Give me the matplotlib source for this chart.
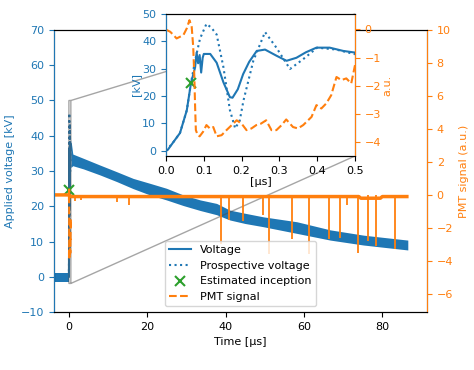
import matplotlib
matplotlib.use("Agg")
import matplotlib.pyplot as plt
from matplotlib.lines import Line2D

plt.rcParams['font.family'] = ['DejaVu Sans']
plt.rcParams['font.size'] = 8

# ---- main voltage envelope (kV) ----
t_pre = [-3.8, -0.05]
pre_up = [1.0, 1.0]
pre_lo = [-1.6, -1.6]

t_env = [0.5, 1, 3.7, 7.9, 12.2, 16.4, 20.7, 24.9, 29.2, 33.5, 37.7, 41.1, 45,
         49.6, 58.2, 66.7, 75.2, 80, 86.5]
env_up = [39, 34.8, 33.6, 31.7, 29.8, 27.9, 26.5, 25.1, 23.2, 21.8, 20.8, 18.9,
          18.0, 17.0, 15.6, 13.3, 11.8, 11.2, 10.4]
env_lo = [31, 31.5, 30.6, 28.9, 27.0, 25.0, 23.2, 21.8, 20.2, 18.8, 17.6, 16.1,
          15.1, 14.2, 12.3, 10.4, 9.0, 8.4, 7.6]

# ---- zoomed voltage (µs, kV) ----
t_v = [0, 0.005, 0.018, 0.037, 0.055, 0.066, 0.077, 0.081, 0.085, 0.089, 0.093,
       0.097, 0.1, 0.117, 0.134, 0.152, 0.169, 0.176, 0.19, 0.204, 0.22, 0.24,
       0.262, 0.293, 0.319, 0.345, 0.37, 0.398, 0.433, 0.469, 0.5]
v_meas = [0, 0.4, 2.9, 6.5, 14.8, 24.7, 30.5, 35.9, 32, 35, 28.6, 34, 35.4,
          35.4, 32.2, 25, 19.6, 19.4, 22.5, 28, 32.5, 36.5, 37, 34.7, 32.9, 34,
          36, 37.7, 37.7, 36.5, 35.9]

t_p = [0, 0.018, 0.037, 0.055, 0.066, 0.077, 0.09, 0.107, 0.12, 0.134, 0.152,
       0.169, 0.183, 0.195, 0.205, 0.231, 0.262, 0.292, 0.328, 0.363, 0.4, 0.45,
       0.5]
v_prosp = [0, 2.9, 6.5, 14.8, 24.7, 33, 41, 46.4, 45, 42.5, 30.5, 14.9, 8.2,
           11, 18.4, 32.9, 43.4, 37.7, 29.9, 33.5, 37.7, 37, 35.3]

# ---- inception ----
t_inc = [0.066]
v_inc = [24.7]

# ---- zoomed PMT (a.u.) ----
t_pmt_z = [0, 0.002, 0.011, 0.020, 0.028, 0.037, 0.046, 0.055, 0.062, 0.068,
           0.072, 0.075, 0.077, 0.079, 0.084, 0.089, 0.098, 0.107, 0.116, 0.125,
           0.134, 0.147, 0.160, 0.174, 0.187, 0.200, 0.213, 0.226, 0.239, 0.251,
           0.265, 0.279, 0.292, 0.306, 0.318, 0.336, 0.349, 0.363, 0.385, 0.398,
           0.411, 0.424, 0.437, 0.451, 0.464, 0.477, 0.490, 0.5]
pmt_z = [0, -0.02, -0.08, -0.2, -0.32, -0.26, -0.2, 0.04, 0.33, 0.09, -0.62,
         -1.69, -2.75, -3.58, -3.76, -3.8, -3.64, -3.4, -3.52, -3.47, -3.8,
         -3.76, -3.58, -3.4, -3.23, -3.35, -3.58, -3.52, -3.4, -3.35, -3.23,
         -3.58, -3.58, -3.4, -3.2, -3.47, -3.52, -3.4, -3.11, -2.69, -2.81,
         -2.63, -2.34, -1.69, -1.8, -1.74, -1.92, -1.27]

# ---- main PMT baseline and spikes ----
t_base = [-3.8, 0.0, 0.6, 74.0, 74.5, 79.5, 80.0, 86.7]
pmt_base = [0.0, 0.0, -0.1, -0.1, -0.2, -0.2, -0.1, -0.1]
spike_t = [1.5, 3.0, 7.0, 12.2, 15.3, 38.8, 40.9, 44.5, 49.5, 51.2, 57.0, 61.4,
           66.5, 69.2, 71.1, 73.9, 76.4, 78.4, 83.3]
spike_v = [-0.35, -0.3, -0.2, -0.45, -0.6, -2.95, -1.5, -1.6, -1.2, -3.6, -2.7,
           -3.6, -2.7, -2.6, -0.6, -3.5, -2.8, -3.1, -3.3]

C0, C1, C2 = '#1f77b4', '#ff7f0e', '#2ca02c'

fig = plt.figure(figsize=(4.74, 3.70), dpi=100)
ax = fig.add_axes([54/474, 1-312/370, (427-54)/474, (312-30)/370])
ax2 = ax.twinx()

# main voltage
ax.fill_between(t_pre, pre_lo, pre_up, color=C0, lw=0)
ax.fill_between(t_env, env_lo, env_up, color=C0, lw=0)
ax.plot(t_v, v_meas, color=C0, lw=1.5)
ax.plot(t_p, v_prosp, color=C0, ls=':', lw=1.5)
ax.plot(t_inc, v_inc, 'x', color=C2, ms=7, mew=1.5, zorder=5)
ax.set_xlim(-3.8, 91.4)
ax.set_ylim(-10, 70)
ax.set_xticks([0, 20, 40, 60, 80])
ax.set_yticks(range(-10, 71, 10))
ax.set_xlabel('Time [μs]')
ax.set_ylabel('Applied voltage [kV]', color=C0)
ax.tick_params(axis='y', colors=C0)

# main PMT
ax2.plot(t_base, pmt_base, color=C1, lw=2.5, solid_capstyle='butt')
ax2.vlines(spike_t, spike_v, 0, colors=C1, linestyles='-', lw=1.3)
ax2.plot(t_pmt_z, pmt_z, color=C1, ls='--', lw=1.5)
ax2.set_ylim(-7.1, 10)
ax2.set_yticks(range(-6, 11, 2))
ax2.set_ylabel('PMT signal (a.u.)', color=C1)
ax2.tick_params(axis='y', colors=C1)
ax2.spines['left'].set_color(C0)
ax2.spines['right'].set_color(C1)

# inset
axins = fig.add_axes([166/474, 1-156/370, (355-166)/474, (156-14)/370])
axins.plot(t_v, v_meas, color=C0, lw=1.5)
axins.plot(t_p, v_prosp, color=C0, ls=':', lw=1.5)
axins.plot(t_inc, v_inc, 'x', color=C2, ms=7, mew=1.5, zorder=5)
axins.set_xlim(0, 0.5)
axins.set_ylim(-1.9, 50)
axins.set_xticks([0, 0.1, 0.2, 0.3, 0.4, 0.5])
axins.set_xticklabels(['0.0', '0.1', '0.2', '0.3', '0.4', '0.5'])
axins.set_yticks(range(0, 51, 10))
axins.set_xlabel('[μs]', labelpad=1)
axins.set_ylabel('[kV]', color=C0, labelpad=1)
axins.tick_params(axis='y', colors=C0)

axins2 = axins.twinx()
axins2.plot(t_pmt_z, pmt_z, color=C1, ls='--', lw=1.5)
axins2.set_ylim(-4.5, 0.55)
axins2.set_yticks([0, -1, -2, -3, -4])
axins2.set_ylabel('a.u.', color=C1, labelpad=1)
axins2.tick_params(axis='y', colors=C1)
axins2.spines['left'].set_color(C0)
axins2.spines['right'].set_color(C1)

ax.indicate_inset_zoom(axins, edgecolor='0.3')

handles = [Line2D([], [], color=C0, lw=1.5),
           Line2D([], [], color=C0, ls=':', lw=1.5),
           Line2D([], [], color=C2, ls='', marker='x', ms=7, mew=1.5),
           Line2D([], [], color=C1, ls='--', lw=1.5)]
labels = ['Voltage', 'Prospective voltage', 'Estimated inception', 'PMT signal']
ax2.legend(handles, labels, loc='lower center')

fig.savefig('out.png', dpi=100)
